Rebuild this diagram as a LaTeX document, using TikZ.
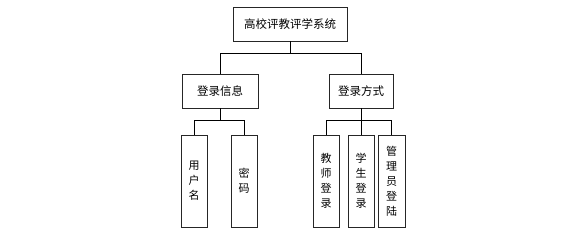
\documentclass[tikz,border=0pt]{standalone}
\usepackage{fontspec}
\setmainfont{Noto Sans CJK SC}
\usetikzlibrary{positioning}

\begin{document}
\begin{tikzpicture}[x=1pt, y=-1pt,
    box/.style={draw=black!85, line width=0.9pt, minimum width=#1, minimum height=34pt,
                inner sep=0pt, font=\fontsize{11.5}{14}\selectfont},
    vbox/.style={draw=black!85, line width=0.9pt, minimum width=26pt, minimum height=92pt,
                 inner sep=0pt, align=center, font=\fontsize{11}{15}\selectfont},
    link/.style={line width=0.9pt}
  ]
  \useasboundingbox (0,0) rectangle (565,233);

  \node[box=114pt] (sys) at (290,24) {高校评教评学系统};
  \node[box=76pt] (info) at (220,91) {登录信息};
  \node[box=64pt] (mode) at (361,91) {登录方式};

  \node[vbox] (user) at (194,181) {用\\户\\名};
  \node[vbox] (pwd) at (244,181) {密\\码};
  \node[vbox] (teach) at (326,181) {教\\师\\登\\录};
  \node[vbox] (stud) at (361,181) {学\\生\\登\\录};
  \node[vbox, minimum width=27pt] (admin) at (391.5,181) {管\\理\\员\\登\\陆};

  % top level
  \draw[link] (sys.south) -- ++(0,12) coordinate (bus0);
  \draw[link] (info.north) |- (bus0) -| (mode.north);

  % login info
  \draw[link] (info.south) -- ++(0,12) coordinate (bus1);
  \draw[link] (user.north) |- (bus1) -| (pwd.north);

  % login mode
  \draw[link] (mode.south) -- ++(0,12) coordinate (bus2);
  \draw[link] (teach.north) |- (bus2) -| (admin.north);
  \draw[link] (bus2) -- (stud.north);

\end{tikzpicture}
\end{document}
